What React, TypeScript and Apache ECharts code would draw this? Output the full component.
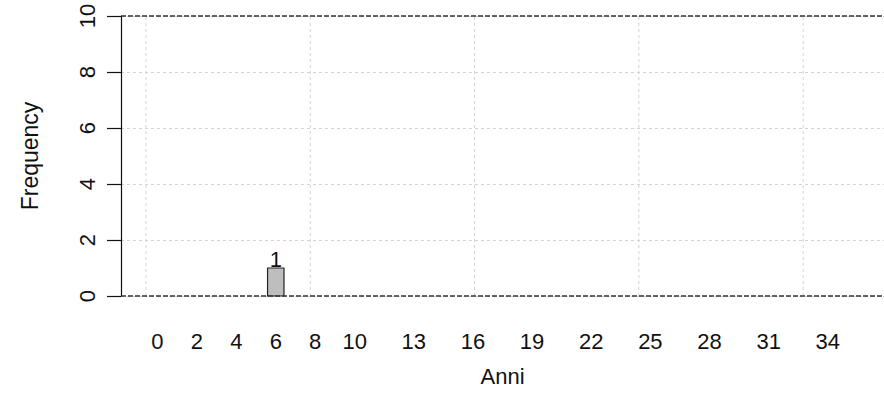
import React, { useEffect, useRef } from "react";
import * as echarts from "echarts";

const categories = ["0","1","2","3","4","5","6","7","8","9","10","11","12","13","14","15","16","17","18","19","20","21","22","23","24","25","26","27","28","29","30","31","32","33","34","35"];
const counts = [0,0,0,0,0,0,1,0,0,0,0,0,0,0,0,0,0,0,0,0,0,0,0,0,0,0,0,0,0,0,0,0,0,0,0,0];
const shownLabels = ["0","2","4","6","8","10","13","16","19","22","25","28","31","34"];
const gridX = [0, 10, 20, 30, 40];
const refLines = [0, 10];

// R barplot layout: width 1, space 0.2
const pos = (i: number) => 0.7 + 1.2 * i;

export default function App() {
  const ref = useRef<HTMLDivElement>(null);
  useEffect(() => {
    const chart = echarts.init(ref.current!, null, { renderer: "svg" });
    const font = "Liberation Sans, Arial, Helvetica, sans-serif";
    const labelVals = shownLabels.map((l) => pos(categories.indexOf(l)));
    chart.setOption({
      animation: false,
      textStyle: { fontFamily: font },
      grid: { left: 121, top: 16, width: 764, height: 280, containLabel: false },
      xAxis: {
        type: "value",
        min: -1.52,
        max: 44.92,
        axisLine: { show: false },
        axisTick: { show: false },
        splitLine: { show: false },
        axisLabel: {
          customValues: labelVals,
          formatter: (v: number) => categories[Math.round((v - 0.7) / 1.2)],
          fontSize: 22,
          color: "#111",
          margin: 34,
          hideOverlap: false,
        },
        name: "Anni",
        nameLocation: "middle",
        nameGap: 69,
        nameTextStyle: { fontSize: 22, color: "#111" },
      },
      yAxis: {
        type: "value",
        min: 0,
        max: 10,
        interval: 2,
        axisLine: { show: true, onZero: false, lineStyle: { color: "#111", width: 1.2 } },
        axisTick: { show: true, length: 14, lineStyle: { color: "#111", width: 1.2 } },
        axisLabel: { rotate: 90, fontSize: 22, color: "#111", margin: 23 },
        splitLine: { show: true, lineStyle: { type: [3, 3], color: "#d3d3d3" } },
        name: "Frequency",
        nameLocation: "middle",
        nameGap: 80,
        nameTextStyle: { fontSize: 23, color: "#111" },
      },
      series: [
        {
          type: "custom",
          silent: true,
          data: gridX.map((x) => [x, 0]),
          renderItem: (params: any, api: any) => {
            const x = api.value(0);
            const a = api.coord([x, 0]);
            const b = api.coord([x, 10]);
            return {
              type: "line",
              shape: { x1: a[0], y1: a[1], x2: b[0], y2: b[1] },
              style: { stroke: "#d3d3d3", lineWidth: 1, lineDash: [3, 3] },
            };
          },
          z: 1,
        },
        {
          type: "custom",
          data: counts.map((v, i) => [pos(i), v]),
          renderItem: (params: any, api: any) => {
            const x = api.value(0);
            const y = api.value(1);
            if (!y) return null;
            const p0 = api.coord([x - 0.5, 0]);
            const p1 = api.coord([x + 0.5, y]);
            return {
              type: "group",
              children: [
                {
                  type: "rect",
                  shape: { x: p0[0], y: p1[1], width: p1[0] - p0[0], height: p0[1] - p1[1] },
                  style: { fill: "#bebebe", stroke: "#222", lineWidth: 1.2 },
                },
                {
                  type: "text",
                  x: (p0[0] + p1[0]) / 2,
                  y: p1[1] + 2,
                  style: {
                    text: String(y),
                    fontSize: 22,
                    fontFamily: font,
                    fill: "#111",
                    align: "center",
                    verticalAlign: "bottom",
                  },
                },
              ],
            };
          },
          z: 3,
        },
        {
          type: "custom",
          silent: true,
          data: refLines.map((y) => [0, y]),
          renderItem: (params: any, api: any) => {
            const y = api.value(1);
            const a = api.coord([-1.52, y]);
            const b = api.coord([44.92, y]);
            return {
              type: "line",
              shape: { x1: a[0], y1: a[1], x2: b[0], y2: b[1] },
              style: { stroke: "#333", lineWidth: 1.3, lineDash: [5, 2] },
            };
          },
          z: 4,
        },
      ],
    });
    return () => chart.dispose();
  }, []);
  return (
    <div
      ref={ref}
      style={{ position: "fixed", left: 0, top: 0, width: 884, height: 411, background: "#fff" }}
    />
  );
}
